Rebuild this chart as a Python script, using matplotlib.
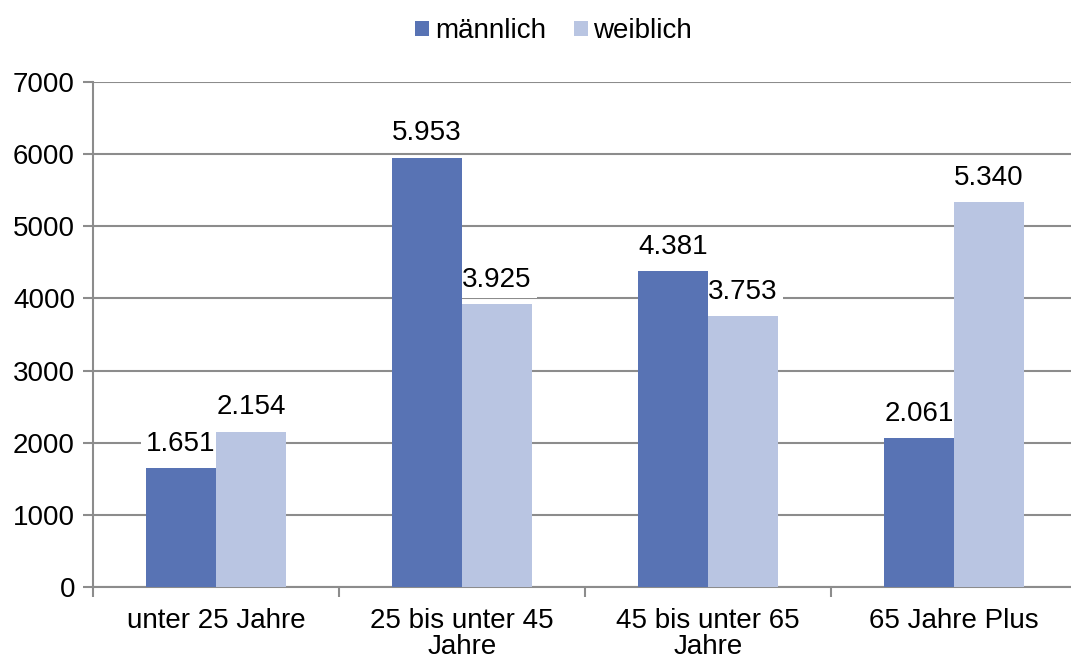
import numpy as np
import matplotlib.pyplot as plt

plt.rcParams["font.family"] = ["Liberation Sans", "DejaVu Sans"]

categories = ["unter 25 Jahre", "25 bis unter 45\nJahre", "45 bis unter 65\nJahre", "65 Jahre Plus"]
maennlich = [1651, 5953, 4381, 2061]
weiblich = [2154, 3925, 3753, 5340]

c_m = "#5873B4"
c_w = "#B9C5E2"
grid_c = "#8C8C8C"
fs = 20

fig = plt.figure(figsize=(10.71, 6.59), dpi=100)
# plot area runs a little past the right edge of the picture, as in the original
ax = fig.add_axes([93 / 1071, 72 / 659, 984 / 1071, 505 / 659])

x = np.arange(len(categories))
w = 0.285
b1 = ax.bar(x - w / 2, maennlich, w, color=c_m, label="männlich", zorder=5)
b2 = ax.bar(x + w / 2, weiblich, w, color=c_w, label="weiblich", zorder=5)

def fmt(v):
    return f"{v:,}".replace(",", ".")

# white box behind labels hides the gridlines, bars stay on top
for bars, vals in [(b1, maennlich), (b2, weiblich)]:
    for r, v in zip(bars, vals):
        ax.annotate(fmt(v), (r.get_x() + r.get_width() / 2, v), xytext=(0, 8),
                    textcoords="offset points", ha="center", va="bottom", fontsize=fs,
                    bbox=dict(boxstyle="square,pad=0.2", fc="white", ec="none"), zorder=4)

ax.set_xlim(-0.5, 3.5)
ax.set_ylim(0, 7000)
ax.set_yticks(range(0, 7001, 1000))
ax.yaxis.grid(True, color=grid_c, lw=1.5, zorder=0)
ax.set_axisbelow(True)

ax.set_xticks(x)
ax.set_xticklabels(categories, fontsize=fs, linespacing=1.0)
ax.set_xticks(np.arange(-0.5, 4, 1), minor=True)
ax.tick_params(axis="x", which="major", length=0, pad=15)
ax.tick_params(axis="x", which="minor", length=7, color=grid_c, width=1.5)
ax.tick_params(axis="y", length=7, color=grid_c, width=1.5, labelsize=fs, pad=6)

for s in ["top", "right"]:
    ax.spines[s].set_visible(False)
for s in ["left", "bottom"]:
    ax.spines[s].set_color(grid_c)
    ax.spines[s].set_linewidth(1.5)

fig.legend(loc="upper center", bbox_to_anchor=(0.517, 1.01), ncol=2, frameon=False, fontsize=fs,
           handlelength=0.5, handleheight=0.5, handletextpad=0.2, columnspacing=1.0)

plt.savefig("out.png", dpi=100)
